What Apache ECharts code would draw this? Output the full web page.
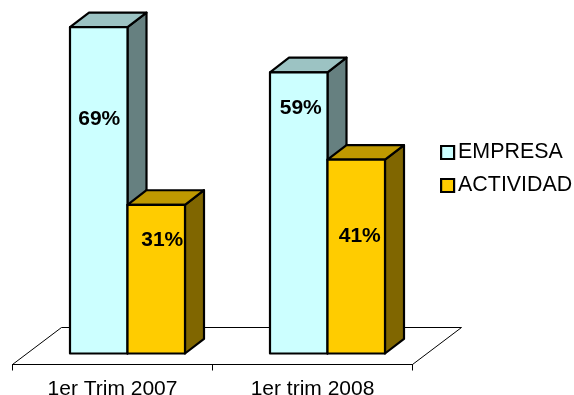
<!DOCTYPE html>
<html>
<head>
<meta charset="utf-8">
<style>html,body{margin:0;padding:0;background:#fff}#c{width:574px;height:395px}</style>
<script src="https://cdn.jsdelivr.net/npm/echarts@6/dist/echarts.min.js"></script>
</head>
<body>
<div id="c"></div>
<script>
const categories = ['1er Trim 2007', '1er trim 2008'];
const seriesNames = ['EMPRESA', 'ACTIVIDAD'];
const empresa = [68.7, 59.2];
const actividad = [31.3, 40.8];

const FONT = '"Liberation Sans", Arial, sans-serif';
const DX = 19, DY = -14.6;          // 3D depth
const BAR_W = 57.5, BAR_SHIFT = 15; // bar width, shift of bar pair inside the band
const FLOOR_DX = 49, FLOOR_DY = -37, AXIS_OFFSET = 11;
const palette = [
  {front: '#CCFFFF', top: '#9CC3C3', side: '#668080'},
  {front: '#FFCC00', top: '#BF9900', side: '#806600'}
];
// label placement relative to the middle of the front face, per series & category [dx, dy]
const labelNudge = [
  [[0.5, -71.5], [2, -104.5]],
  [[6, -39], [3.5, -20]]
];

function barRenderer(si) {
  return function (params, api) {
    const idx = api.value(0), val = api.value(1);
    const top = api.coord([idx, val]), base = api.coord([idx, 0]);
    const cx = base[0] + BAR_SHIFT;
    const x0 = si === 0 ? cx - BAR_W : cx, x1 = x0 + BAR_W;
    const yT = top[1], yB = base[1];
    const stroke = {stroke: '#000', lineWidth: 2.2, lineJoin: 'round'};
    const pal = palette[si];
    const nudge = labelNudge[si][idx];
    return {
      type: 'group',
      children: [
        {type: 'polygon', shape: {points: [[x1, yT], [x1 + DX, yT + DY], [x1 + DX, yB + DY], [x1, yB]]},
          style: Object.assign({fill: pal.side}, stroke)},
        {type: 'polygon', shape: {points: [[x0, yT], [x0 + DX, yT + DY], [x1 + DX, yT + DY], [x1, yT]]},
          style: Object.assign({fill: pal.top}, stroke)},
        {type: 'rect', shape: {x: x0, y: yT, width: BAR_W, height: yB - yT},
          style: Object.assign({fill: pal.front}, stroke)},
        {type: 'text', z2: 10, style: {
          text: Math.round(val) + '%',
          x: (x0 + x1) / 2 + nudge[0], y: (yT + yB) / 2 + nudge[1],
          fill: '#000', font: 'bold 21px ' + FONT, align: 'center', verticalAlign: 'middle'
        }}
      ]
    };
  };
}

function floorRenderer(params, api) {
  const band = api.size([1, 0])[0];
  const first = api.coord([0, 0]);
  const xL = first[0] - band / 2, xR = xL + band * categories.length;
  const y = first[1] + AXIS_OFFSET;
  return {
    type: 'polyline',
    shape: {points: [[xL, y], [xL + FLOOR_DX, y + FLOOR_DY], [xR + FLOOR_DX, y + FLOOR_DY], [xR, y]]},
    style: {stroke: '#000', lineWidth: 1, fill: null}
  };
}

const chart = echarts.init(document.getElementById('c'), null, {renderer: 'canvas'});
chart.setOption({
  animation: false,
  backgroundColor: '#fff',
  grid: {left: 12.5, width: 400, top: 21, height: 332.5, outerBoundsMode: 'none', containLabel: false},
  legend: {
    left: 435, top: 137, orient: 'vertical', itemWidth: 13, itemHeight: 13, itemGap: 12,
    icon: 'rect', selectedMode: false,
    data: seriesNames.map((n, i) => ({
      name: n,
      itemStyle: {color: palette[i].front, borderColor: '#000', borderWidth: 2.2}
    })),
    textStyle: {fontFamily: FONT, fontSize: 21.4, color: '#000', padding: [0, 0, 0, -1]}
  },
  xAxis: {
    type: 'category', data: categories, offset: AXIS_OFFSET,
    axisLine: {onZero: false, lineStyle: {color: '#000', width: 1}},
    axisTick: {show: true, length: 6, lineStyle: {color: '#000', width: 1}},
    axisLabel: {color: '#000', fontFamily: FONT, fontSize: 21, margin: 14}
  },
  yAxis: {type: 'value', min: 0, max: 70, interval: 10, show: false, splitLine: {show: false}},
  series: [
    {type: 'custom', name: 'floor', clip: false, z: 1, silent: true,
      data: [[0, 0]], renderItem: floorRenderer, encode: {x: 0, y: 1}},
    {type: 'custom', name: seriesNames[0], clip: false, z: 2,
      itemStyle: {color: palette[0].front},
      data: empresa.map((v, i) => [i, v]), renderItem: barRenderer(0), encode: {x: 0, y: 1}},
    {type: 'custom', name: seriesNames[1], clip: false, z: 3,
      itemStyle: {color: palette[1].front},
      data: actividad.map((v, i) => [i, v]), renderItem: barRenderer(1), encode: {x: 0, y: 1}}
  ]
});
</script>
</body>
</html>
